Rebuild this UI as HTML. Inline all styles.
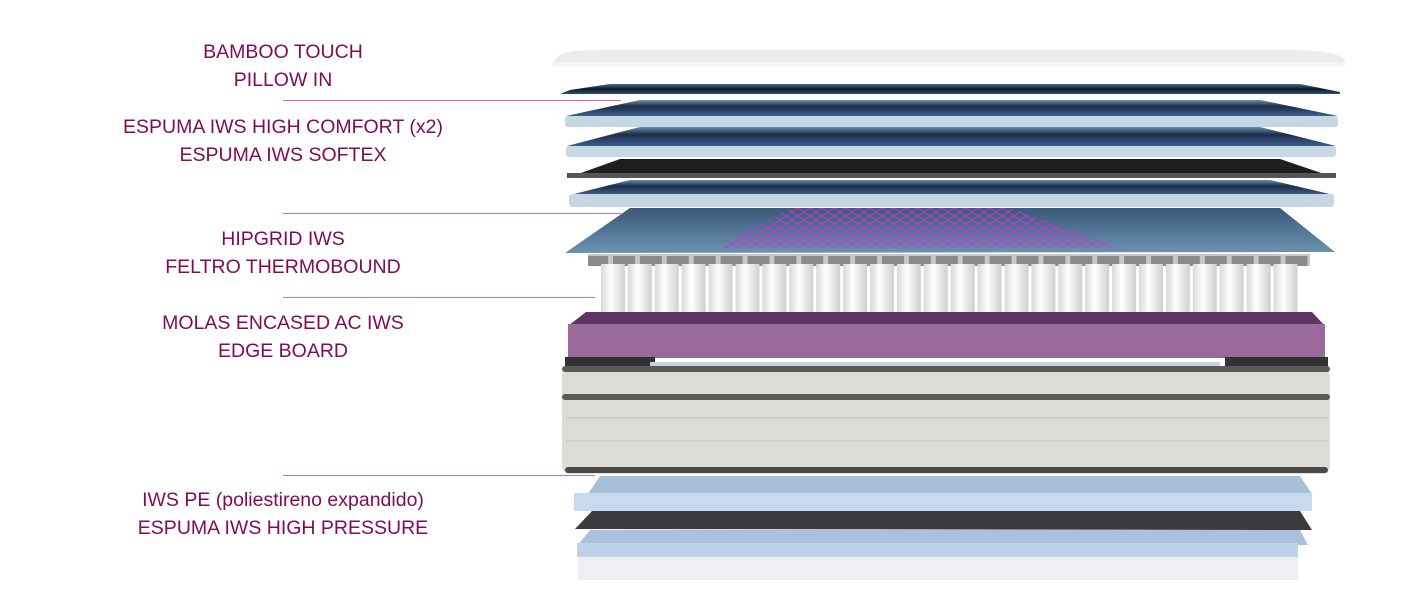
<!DOCTYPE html>
<html><head><meta charset="utf-8"><style>
body{margin:0;background:#fff;width:1411px;height:616px;overflow:hidden;position:relative;font-family:"Liberation Sans",sans-serif}
.t{position:absolute;width:566px;left:0;text-align:center;color:#7d0c54;font-size:19.5px;line-height:28px}
.l{position:absolute;left:283px;height:1px;background:#dc6aa6}
</style></head><body>
<svg width="1411" height="616" style="position:absolute;left:0;top:0">
<defs>
<linearGradient id="db" x1="0" y1="0" x2="0" y2="1"><stop offset="0" stop-color="#4a6a88"/><stop offset="0.5" stop-color="#0f1a28"/><stop offset="1" stop-color="#2c4f78"/></linearGradient>
<linearGradient id="bt" x1="0" y1="0" x2="0" y2="1"><stop offset="0" stop-color="#6a8fb0"/><stop offset="0.4" stop-color="#1c2d48"/><stop offset="1" stop-color="#3d5f8f"/></linearGradient>
<linearGradient id="hg" x1="0" y1="0" x2="0" y2="1"><stop offset="0" stop-color="#3a5878"/><stop offset="1" stop-color="#6c92b2"/></linearGradient>
<linearGradient id="cyl" x1="0" y1="0" x2="1" y2="0"><stop offset="0" stop-color="#d8d8d8"/><stop offset="0.4" stop-color="#fff"/><stop offset="1" stop-color="#cfcfcf"/></linearGradient>
<pattern id="sp" x="600" y="0" width="26.9" height="616" patternUnits="userSpaceOnUse">
<rect x="1" y="0" width="24" height="616" fill="url(#cyl)"/>
</pattern>
<pattern id="sp2" x="612" y="0" width="26.9" height="616" patternUnits="userSpaceOnUse">
<rect x="1" y="0" width="22" height="616" fill="#8a8a8a"/>
</pattern>
<pattern id="grid" x="0" y="0" width="12" height="8" patternUnits="userSpaceOnUse">
<path d="M0 4 L6 0 L12 4 M0 4 L6 8 L12 4" stroke="#d030d8" stroke-width="1" fill="none"/>
</pattern>
</defs>
<path d="M556 58 Q560 50 600 50 L1300 50 Q1345 52 1345 62 L1345 67 L552 67 Z" fill="#ececec"/>
<rect x="552" y="62" width="793" height="5" fill="#f5f5f5"/>
<path d="M570 90 L610 84 L1300 84 L1340 92 L1340 94 L560 94 Z" fill="url(#db)"/>
<path d="M566 116 L640 100 L1260 100 L1338 116 Z" fill="url(#bt)"/>
<rect x="565" y="116" width="773" height="11" rx="3" fill="#c6d7e4"/>
<path d="M567 146 L640 127 L1260 127 L1336 146 Z" fill="url(#bt)"/>
<rect x="566" y="146" width="770" height="11" rx="3" fill="#c8d8e4"/>
<path d="M567 178 L620 159 L1280 159 L1336 178 Z" fill="#1e1e20"/>
<rect x="567" y="173" width="769" height="5" fill="#555"/>
<path d="M570 195 L630 180 L1270 180 L1334 195 Z" fill="url(#bt)"/>
<rect x="569" y="194" width="765" height="13" rx="3" fill="#c6d6e3"/>
<path d="M565 253 L630 208 L1280 208 L1335 252 Z" fill="url(#hg)"/>
<path d="M720 248 L790 208 L1010 208 L1120 248 Z" fill="url(#grid)" opacity="0.9"/>
<rect x="588" y="254" width="722" height="12" fill="#c8c8c8"/>
<rect x="588" y="256" width="722" height="10" fill="url(#sp2)"/>
<rect x="600" y="264" width="700" height="55" fill="url(#sp)"/>
<path d="M568 326 L586 312 L1312 312 L1325 326 Z" fill="#5e3560"/>
<rect x="568" y="324" width="757" height="34" fill="#9b6a9c"/>
<rect x="565" y="357" width="90" height="10" fill="#333"/>
<rect x="1225" y="357" width="103" height="10" fill="#333"/>
<rect x="650" y="362" width="570" height="8" fill="#c5d3e0"/>
<rect x="562" y="368" width="768" height="106" rx="8" fill="#ddddd8"/>
<rect x="562" y="366" width="768" height="6" rx="3" fill="#5a5a5a"/>
<rect x="562" y="394" width="768" height="6" rx="3" fill="#5a5a5a"/>
<rect x="565" y="467" width="763" height="6" rx="3" fill="#4a4a4a"/>
<line x1="566" y1="418" x2="1328" y2="418" stroke="#c2c2be"/>
<line x1="566" y1="441" x2="1328" y2="441" stroke="#c2c2be"/>
<path d="M588 494 L600 476 L1300 476 L1312 494 Z" fill="#a8bfd8"/>
<rect x="574" y="493" width="738" height="18" fill="#c6dbef"/>
<path d="M575 529 L592 511 L1300 511 L1312 530 Z" fill="#3a3b3d"/>
<path d="M578 545 L590 530 L1300 530 L1308 545 Z" fill="#a9c1da"/>
<rect x="577" y="543" width="721" height="14" fill="#bfd3e8"/>
<rect x="578" y="557" width="720" height="23" fill="#eeeff2"/>
</svg>
<div class="t" style="top:38px">BAMBOO TOUCH<br>PILLOW IN</div>
<div class="l" style="top:100px;width:338px"></div>
<div class="t" style="top:113px">ESPUMA IWS HIGH COMFORT (x2)<br>ESPUMA IWS SOFTEX</div>
<div class="l" style="top:213px;width:338px"></div>
<div class="t" style="top:225px">HIPGRID IWS<br>FELTRO THERMOBOUND</div>
<div class="l" style="top:297px;width:312px"></div>
<div class="t" style="top:309px">MOLAS ENCASED AC IWS<br>EDGE BOARD</div>
<div class="l" style="top:475px;width:312px"></div>
<div class="t" style="top:486px">IWS PE (poliestireno expandido)<br>ESPUMA IWS HIGH PRESSURE</div>
</body></html>
